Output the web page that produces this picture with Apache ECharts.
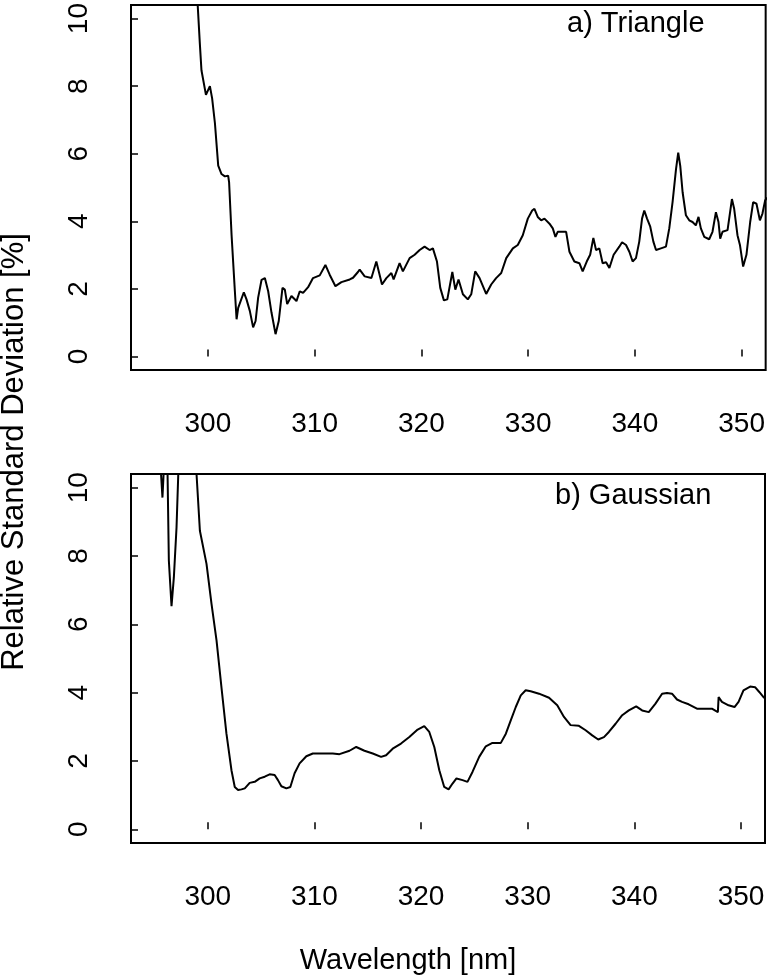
<!DOCTYPE html>
<html>
<head>
<meta charset="utf-8">
<script src="https://cdn.jsdelivr.net/npm/echarts@6/dist/echarts.min.js"></script>
<style>
  html, body { margin: 0; padding: 0; background: #fff; }
  #chart { width: 768px; height: 980px; }
</style>
</head>
<body>
<div id="chart"></div>
<script>
// x tick values (nm) and y tick values (%)
var xTicks = [300, 310, 320, 330, 340, 350];
var yTicks = [0, 2, 4, 6, 8, 10];

// a) Triangle
var triWl = [298.95, 299.04, 299.25, 299.4, 299.82, 299.94, 300.19, 300.4, 300.66, 300.97, 301.28, 301.59, 301.9, 301.99,
  302.22, 302.53, 302.69, 302.84, 303.0, 303.37, 303.62, 303.93, 304.24, 304.47, 304.71, 305.03, 305.34, 305.65, 305.96,
  306.34, 306.64, 306.99, 307.21, 307.43, 307.83, 308.3, 308.61, 308.92, 309.39, 309.85, 310.48, 311.01, 311.41, 311.95,
  312.51, 313.29, 313.6, 314.06, 314.22, 314.69, 315.32, 315.78, 316.31, 316.72, 317.19, 317.4, 317.96, 318.27, 318.9,
  319.37, 319.84, 320.3, 320.77, 321.08, 321.46, 321.77, 322.11, 322.43, 322.9, 323.18, 323.48, 323.89, 324.35, 324.67,
  325.04, 325.45, 326.07, 326.54, 327.0, 327.48, 327.95, 328.57, 329.03, 329.5, 329.97, 330.38, 330.59, 330.9, 331.22,
  331.53, 332.0, 332.31, 332.56, 332.77, 333.24, 333.56, 333.87, 334.33, 334.8, 335.11, 335.49, 335.81, 336.11, 336.36,
  336.67, 336.98, 337.3, 337.61, 338.01, 338.54, 338.8, 339.17, 339.48, 339.79, 340.1, 340.41, 340.67, 340.88, 341.14,
  341.44, 341.73, 341.98, 342.44, 342.91, 343.22, 343.53, 343.85, 344.06, 344.25, 344.47, 344.78, 345.09, 345.4, 345.71,
  345.96, 346.18, 346.5, 346.96, 347.27, 347.59, 347.83, 347.99, 348.21, 348.68, 349.09, 349.3, 349.61, 349.84, 350.14,
  350.45, 350.8, 351.08, 351.39, 351.71, 351.95, 352.2, 352.4];
var triRsd = [11.0, 10.44, 9.25, 8.47, 7.74, 7.69, 8.0, 7.64, 6.91, 5.65, 5.4, 5.33, 5.35, 5.15,
  3.6, 1.93, 1.1, 1.44, 1.49, 1.9, 1.69, 1.35, 0.86, 1.05, 1.74, 2.27, 2.32, 1.93, 1.3,
  0.66, 1.05, 2.03, 1.98, 1.55, 1.79, 1.64, 1.93, 1.88, 2.05, 2.32, 2.4, 2.71, 2.42, 2.08,
  2.2, 2.28, 2.33, 2.5, 2.57, 2.37, 2.32, 2.81, 2.13, 2.32, 2.47, 2.28, 2.76, 2.52, 2.91,
  3.01, 3.15, 3.25, 3.15, 3.2, 2.81, 2.03, 1.66, 1.69, 2.5, 1.98, 2.28, 1.84, 1.69, 1.84,
  2.52, 2.32, 1.85, 2.13, 2.32, 2.47, 2.91, 3.2, 3.3, 3.59, 4.08, 4.32, 4.37, 4.13, 4.03,
  4.08, 3.93, 3.79, 3.54, 3.69, 3.69, 3.69, 3.1, 2.81, 2.76, 2.52, 2.81, 3.01, 3.51, 3.15,
  3.2, 2.76, 2.79, 2.62, 3.01, 3.25, 3.38, 3.3, 3.1, 2.81, 2.91, 3.4, 4.08, 4.32, 4.08,
  3.84, 3.4, 3.15, 3.2, 3.25, 3.79, 4.57, 5.54, 6.03, 5.64, 4.86, 4.18, 4.03, 3.98, 3.88,
  4.13, 3.79, 3.54, 3.47, 3.69, 4.27, 3.98, 3.49, 3.69, 3.74, 4.66, 4.37, 3.59, 3.3, 2.66,
  3.01, 3.98, 4.57, 4.52, 4.03, 4.23, 4.62, 4.7];

// b) Gaussian
var gauWl = [295.5, 295.6, 295.75, 295.95, 296.2, 296.35, 296.6, 296.82, 297.07, 297.23, 298.0, 298.95, 299.26, 299.88,
  300.35, 300.82, 301.28, 301.75, 302.22, 302.53, 302.84, 303.16, 303.47, 303.93, 304.4, 304.87, 305.34, 305.8, 306.27,
  306.58, 306.9, 307.37, 307.74, 308.14, 308.61, 309.24, 309.85, 310.79, 311.72, 312.35, 313.29, 313.92, 314.69, 315.47,
  316.25, 316.72, 317.34, 318.12, 318.9, 319.68, 320.3, 320.77, 321.24, 321.71, 322.17, 322.58, 322.95, 323.32, 323.89,
  324.35, 324.82, 325.45, 326.07, 326.69, 327.48, 327.95, 328.41, 328.88, 329.35, 329.81, 330.28, 331.06, 332.0, 332.77,
  333.4, 334.02, 334.8, 335.43, 336.05, 336.61, 337.15, 337.61, 338.24, 338.86, 339.48, 340.17, 340.73, 341.35, 341.98,
  342.6, 343.06, 343.53, 344.0, 344.47, 345.09, 345.87, 346.65, 347.27, 347.83, 347.9, 348.21, 348.83, 349.39, 349.77,
  350.23, 350.86, 351.32, 351.71, 352.11, 352.4];
var gauRsd = [11.0, 11.0, 9.71, 11.0, 11.0, 7.86, 6.53, 7.38, 8.84, 10.37, 12.0, 10.37, 8.74, 7.77,
  6.6, 5.53, 4.16, 2.8, 1.73, 1.24, 1.15, 1.17, 1.2, 1.36, 1.39, 1.49, 1.54, 1.61, 1.59,
  1.44, 1.26, 1.2, 1.24, 1.64, 1.93, 2.14, 2.22, 2.22, 2.22, 2.2, 2.3, 2.41, 2.3, 2.22,
  2.12, 2.17, 2.36, 2.51, 2.7, 2.92, 3.02, 2.85, 2.41, 1.73, 1.24, 1.17, 1.34, 1.49, 1.44,
  1.39, 1.68, 2.12, 2.43, 2.53, 2.53, 2.8, 3.19, 3.58, 3.92, 4.07, 4.04, 3.97, 3.85, 3.63,
  3.29, 3.05, 3.03, 2.9, 2.75, 2.63, 2.7, 2.85, 3.09, 3.34, 3.48, 3.6, 3.48, 3.43, 3.68,
  3.97, 3.99, 3.97, 3.8, 3.73, 3.66, 3.53, 3.53, 3.53, 3.43, 3.87, 3.73, 3.63, 3.58, 3.73,
  4.07, 4.18, 4.16, 4.02, 3.87, 3.8];

function pairs(xs, ys) {
  return xs.map(function (x, i) { return [x, ys[i]]; });
}

var font = 'Liberation Sans, Arial, Helvetica, sans-serif';

function xAxisFor(idx) {
  return {
    type: 'value', gridIndex: idx, min: 292.8, max: 352.25,
    axisLine: { show: false },
    splitLine: { show: false },
    axisTick: { show: true, inside: true, length: 7, customValues: xTicks, lineStyle: { color: '#000', width: 1.5 } },
    axisLabel: { show: true, customValues: xTicks, margin: 40, color: '#000', fontSize: 28, fontFamily: font }
  };
}
function yAxisFor(idx) {
  return {
    type: 'value', gridIndex: idx, min: -0.4, max: 10.4,
    axisLine: { show: false },
    splitLine: { show: false },
    axisTick: { show: true, inside: true, length: 7, customValues: yTicks, lineStyle: { color: '#000', width: 1.5 } },
    axisLabel: { show: true, customValues: yTicks, rotate: 90, margin: 38, color: '#000', fontSize: 28, fontFamily: font }
  };
}

var chart = echarts.init(document.getElementById('chart'));
var option = {
  animation: false,
  backgroundColor: '#fff',
  grid: [
    { left: 131, top: 0, width: 636, height: 370, show: true, borderColor: '#000', borderWidth: 2 },
    { left: 131, top: 474, width: 634, height: 369, show: true, borderColor: '#000', borderWidth: 2 }
  ],
  xAxis: [xAxisFor(0), xAxisFor(1)],
  yAxis: [yAxisFor(0), yAxisFor(1)],
  graphic: [
    { type: 'text', x: 567, y: 24, style: { text: 'a) Triangle', font: '29px ' + font, fill: '#000', textAlign: 'left', textVerticalAlign: 'middle' } },
    { type: 'text', x: 555, y: 496, style: { text: 'b) Gaussian', font: '29px ' + font, fill: '#000', textAlign: 'left', textVerticalAlign: 'middle' } },
    { type: 'text', x: 408, y: 961, style: { text: 'Wavelength [nm]', font: '29px ' + font, fill: '#000', textAlign: 'center', textVerticalAlign: 'middle' } },
    { type: 'text', x: 14, y: 452, rotation: Math.PI / 2, style: { text: 'Relative Standard Deviation [%]', font: '31px ' + font, fill: '#000', textAlign: 'center', textVerticalAlign: 'middle' } }
  ],
  series: [
    {
      type: 'line', xAxisIndex: 0, yAxisIndex: 0, data: pairs(triWl, triRsd),
      showSymbol: false, symbol: 'none', clip: true,
      lineStyle: { color: '#000', width: 2 }
    },
    {
      type: 'line', xAxisIndex: 1, yAxisIndex: 1, data: pairs(gauWl, gauRsd),
      showSymbol: false, symbol: 'none', clip: true,
      lineStyle: { color: '#000', width: 2 }
    }
  ]
};
chart.setOption(option);
</script>
</body>
</html>
